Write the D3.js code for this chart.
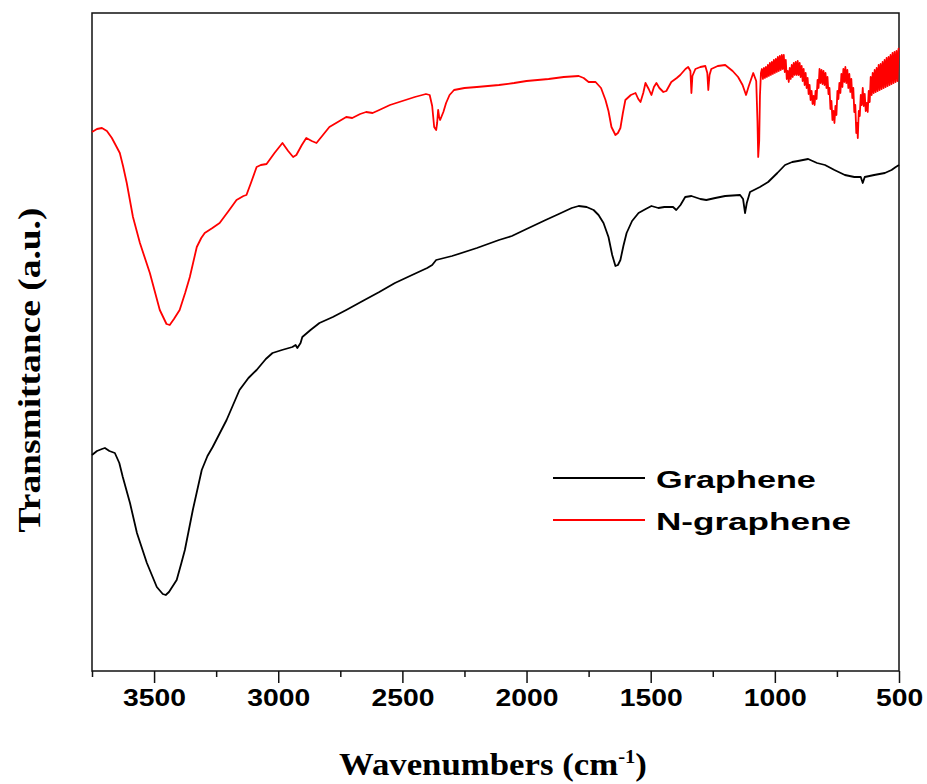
<!DOCTYPE html>
<html>
<head>
<meta charset="utf-8">
<script src="https://cdn.jsdelivr.net/npm/d3@7"></script>
<style>
  body { margin: 0; background: #fff; }
  svg { display: block; }
</style>
</head>
<body>
<div id="chart"></div>
<script>
var width = 927,
    height = 784;

// tick labels on the wavenumber axis
var majorTicks = [3500, 3000, 2500, 2000, 1500, 1000, 500];
var minorTicks = [3750, 3250, 2750, 2250, 1750, 1250, 750];

var seriesNames = ["Graphene", "N-graphene"];
var seriesColors = ["#000000", "#ff0000"];

// Graphene: [wavenumber, transmittance (a.u.)]
var graphene = [
  [3750, 21.6], [3730, 22.0], [3710, 22.2], [3698, 22.3], [3680, 22.0], [3658, 21.8],
  [3640, 20.8], [3626, 19.4], [3597, 16.8], [3569, 13.8], [3529, 10.8], [3489, 8.4],
  [3465, 7.7], [3453, 7.6], [3440, 7.9], [3409, 9.1], [3390, 10.8], [3376, 12.1],
  [3344, 16.1], [3308, 20.1], [3285, 21.5], [3264, 22.4], [3208, 25.1], [3156, 28.1],
  [3120, 29.3], [3087, 30.1], [3050, 31.2], [3023, 31.8], [2985, 32.1], [2943, 32.4],
  [2930, 32.6], [2923, 32.3], [2910, 32.8], [2903, 33.4], [2870, 34.1], [2834, 34.8],
  [2780, 35.4], [2726, 36.1], [2660, 37.0], [2593, 37.9], [2530, 38.8], [2461, 39.6],
  [2400, 40.3], [2380, 40.6], [2364, 41.1], [2300, 41.5], [2200, 42.3], [2111, 43.1],
  [2059, 43.5], [2000, 44.2], [1923, 45.1], [1870, 45.7], [1818, 46.3], [1790, 46.5],
  [1758, 46.4], [1730, 46.1], [1710, 45.6], [1690, 44.8], [1670, 43.4], [1655, 41.6],
  [1642, 40.5], [1632, 40.6], [1622, 41.1], [1610, 42.5], [1597, 43.8], [1575, 45.0],
  [1549, 45.8], [1520, 46.2], [1497, 46.5], [1469, 46.3], [1445, 46.4], [1429, 46.4],
  [1410, 46.4], [1397, 46.1], [1380, 46.6], [1361, 47.4], [1336, 47.5], [1300, 47.2],
  [1276, 47.1], [1240, 47.3], [1200, 47.5], [1140, 47.6], [1128, 47.2], [1120, 45.8],
  [1113, 46.8], [1100, 47.9], [1060, 48.4], [1027, 48.9], [990, 49.8], [959, 50.6],
  [930, 50.9], [907, 51.0], [866, 51.2], [830, 50.8], [798, 50.6], [760, 50.1],
  [718, 49.6], [680, 49.4], [654, 49.4], [646, 48.8], [638, 49.4], [600, 49.6],
  [557, 49.8], [530, 50.1], [513, 50.4], [500, 50.6]
];

// N-graphene: [wavenumber, transmittance (a.u.)]
var nGraphene = [
  [3750, 53.9], [3730, 54.2], [3710, 54.3], [3690, 54.0], [3670, 53.3], [3655, 52.6],
  [3638, 51.8], [3625, 50.5], [3610, 48.8], [3585, 45.4], [3557, 42.8], [3517, 39.8],
  [3477, 36.1], [3450, 34.7], [3437, 34.6], [3420, 35.2], [3397, 36.1], [3375, 37.8],
  [3356, 39.4], [3328, 42.4], [3310, 43.3], [3296, 43.8], [3265, 44.3], [3236, 44.8],
  [3200, 46.0], [3168, 47.1], [3140, 47.5], [3128, 47.6], [3110, 48.8], [3087, 50.4],
  [3070, 50.6], [3047, 50.7], [3015, 51.8], [2983, 52.8], [2960, 52.0], [2940, 51.4],
  [2927, 51.6], [2905, 52.6], [2887, 53.3], [2865, 53.0], [2846, 52.8], [2820, 53.6],
  [2794, 54.4], [2760, 54.9], [2726, 55.4], [2702, 55.3], [2670, 55.7], [2646, 55.9],
  [2620, 55.8], [2593, 56.1], [2550, 56.6], [2500, 57.0], [2450, 57.4], [2405, 57.7],
  [2390, 57.6], [2380, 56.5], [2372, 54.4], [2364, 54.1], [2360, 54.8], [2356, 56.1],
  [2352, 55.4], [2348, 55.1], [2335, 55.9], [2324, 56.8], [2310, 57.6], [2292, 58.1],
  [2250, 58.3], [2200, 58.4], [2111, 58.6], [2050, 58.8], [2000, 59.0], [1911, 59.2],
  [1850, 59.4], [1790, 59.5], [1770, 59.3], [1750, 58.9], [1722, 58.9], [1700, 58.3],
  [1682, 57.1], [1670, 56.0], [1658, 54.4], [1642, 53.6], [1632, 53.8], [1622, 54.3],
  [1612, 55.8], [1602, 57.1], [1580, 57.6], [1561, 57.8], [1550, 57.2], [1541, 56.9],
  [1530, 57.8], [1521, 58.8], [1508, 58.2], [1497, 57.6], [1487, 58.4], [1477, 58.8],
  [1465, 58.3], [1449, 57.9], [1437, 58.0], [1417, 58.9], [1395, 59.3], [1381, 59.6],
  [1360, 60.2], [1349, 60.4], [1340, 60.0], [1336, 57.8], [1332, 59.5], [1320, 60.2],
  [1300, 60.4], [1280, 60.5], [1272, 59.8], [1268, 58.1], [1263, 59.6], [1256, 60.2],
  [1230, 60.5], [1200, 60.6], [1170, 60.0], [1148, 59.4], [1130, 58.6], [1116, 57.6],
  [1105, 58.5], [1087, 59.8], [1075, 59.0], [1070, 55.0], [1067, 51.4], [1063, 53.0],
  [1060, 57.5], [1056, 59.8],
  // noisy fingerprint region
  [1052, 60.2], [1048, 59.2], [1044, 60.3], [1040, 59.3], [1036, 60.4], [1032, 59.4],
  [1028, 60.6], [1024, 59.5], [1020, 60.8], [1016, 59.6], [1012, 60.9], [1008, 59.7],
  [1004, 61.1], [1000, 59.8], [996, 61.2], [992, 59.9], [988, 61.4], [984, 60.0],
  [980, 61.5], [976, 60.1], [972, 61.6], [968, 60.2], [964, 61.6], [960, 59.9],
  [956, 61.1], [952, 59.2], [948, 60.0], [944, 58.9], [940, 60.3], [936, 59.2],
  [932, 60.6], [928, 59.4], [924, 60.8], [920, 59.6], [916, 60.9], [912, 59.6],
  [908, 61.0], [904, 59.6], [900, 60.8], [896, 59.4], [892, 60.5], [888, 59.0],
  [884, 60.2], [880, 58.6], [876, 59.8], [872, 58.3], [868, 59.3], [864, 57.7],
  [860, 58.6], [856, 57.1], [852, 58.0], [848, 56.7], [844, 57.5], [840, 56.6],
  [836, 58.0], [832, 57.2], [828, 59.1], [824, 58.3], [820, 60.2], [816, 58.8],
  [812, 60.1], [808, 58.7], [804, 60.0], [800, 58.6], [796, 59.8], [792, 58.3],
  [788, 59.4], [784, 57.7], [780, 58.3], [776, 56.2], [772, 57.0], [768, 55.1],
  [764, 56.0], [760, 54.8], [756, 56.5], [752, 55.6], [748, 58.0], [744, 57.2],
  [740, 58.8], [736, 57.8], [732, 59.7], [728, 58.4], [724, 60.2], [720, 58.9],
  [716, 60.4], [712, 58.8], [708, 60.1], [704, 58.3], [700, 59.7], [696, 57.9],
  [692, 59.2], [688, 57.3], [684, 58.3], [680, 55.9], [676, 56.6], [672, 53.8],
  [668, 54.8], [666, 53.3], [662, 56.0], [658, 55.5], [654, 57.6], [650, 56.6],
  [646, 58.3], [642, 56.5], [638, 57.7], [634, 56.0], [630, 56.8], [626, 55.9],
  [622, 58.0], [618, 56.9], [614, 59.4], [610, 57.6], [606, 59.8], [602, 57.8],
  [598, 60.1], [594, 57.9], [590, 60.3], [586, 58.0], [582, 60.6], [578, 58.1],
  [574, 60.7], [570, 58.2], [566, 60.9], [562, 58.3], [558, 61.1], [554, 58.4],
  [550, 61.3], [546, 58.5], [542, 61.4], [538, 58.6], [534, 61.6], [530, 58.7],
  [526, 61.8], [522, 58.8], [518, 61.9], [514, 58.9], [510, 62.0], [506, 59.0],
  [502, 62.2], [500, 62.3]
];

var plotLeft = 92, plotRight = 899, plotTop = 13, plotBottom = 671;

var svg = d3.select("#chart")
  .append("svg")
  .attr("width", width)
  .attr("height", height);

var xScale = d3.scaleLinear()
  .domain([3750, 500])
  .range([plotLeft, plotRight]);

var yScale = d3.scaleLinear()
  .domain([0, 65.8])
  .range([plotBottom, plotTop]);

// horizontal stretch needed to bring a text to a target width
function fitWidth(textSel, target) {
  var w = textSel.node().getBBox().width;
  return target / w;
}

// minor ticks
svg.append("g")
  .attr("transform", "translate(0," + plotBottom + ")")
  .call(d3.axisBottom(xScale).tickValues(minorTicks).tickSize(6).tickFormat(""))
  .call(function(g) { g.select(".domain").remove(); })
  .selectAll("line").attr("stroke", "#111").attr("stroke-width", 1.5);

// major ticks + labels
var xAxis = svg.append("g")
  .attr("transform", "translate(0," + plotBottom + ")")
  .call(d3.axisBottom(xScale).tickValues(majorTicks).tickSize(12).tickPadding(7).tickFormat(d3.format("d")));

xAxis.select(".domain").remove();
xAxis.selectAll("line").attr("stroke", "#111").attr("stroke-width", 1.5);
var tickText = xAxis.selectAll("text")
  .attr("fill", "#000")
  .style("font-family", "'Liberation Sans', Arial, sans-serif")
  .style("font-weight", "bold")
  .style("font-size", "23px");
// same stretch for every label, taken from the 4-digit one
var tickStretch = fitWidth(tickText.filter(function(d) { return d === 3500; }), 63);
tickText.attr("transform", "scale(" + tickStretch + ",1)");

// frame
svg.append("rect")
  .attr("x", plotLeft)
  .attr("y", plotTop)
  .attr("width", plotRight - plotLeft)
  .attr("height", plotBottom - plotTop)
  .attr("fill", "none")
  .attr("stroke", "#111")
  .attr("stroke-width", 1.5);

// lines
var line = d3.line()
  .x(function(d) { return xScale(d[0]); })
  .y(function(d) { return yScale(d[1]); });

[graphene, nGraphene].forEach(function(data, i) {
  svg.append("path")
    .datum(data)
    .attr("fill", "none")
    .attr("stroke", seriesColors[i])
    .attr("stroke-width", 1.8)
    .attr("stroke-linejoin", "round")
    .attr("d", line);
});

// legend
var legendY = [478, 520];
seriesNames.forEach(function(name, i) {
  svg.append("line")
    .attr("x1", 553).attr("x2", 645)
    .attr("y1", legendY[i]).attr("y2", legendY[i])
    .attr("stroke", seriesColors[i])
    .attr("stroke-width", 1.8);
  var g = svg.append("g");
  var t = g.append("text")
    .attr("x", 0).attr("y", 0)
    .style("font-family", "'Liberation Sans', Arial, sans-serif")
    .style("font-weight", "bold")
    .style("font-size", "23px")
    .text(name);
  var s = fitWidth(t, i === 0 ? 160 : 195);
  g.attr("transform", "translate(656," + (legendY[i] + 10) + ") scale(" + s + ",1)");
});

// x axis title
var xt = svg.append("g");
var xText = xt.append("text")
  .attr("text-anchor", "middle")
  .style("font-family", "'Liberation Serif', 'Times New Roman', serif")
  .style("font-weight", "bold")
  .style("font-size", "32px");
xText.append("tspan").text("Wavenumbers (cm");
xText.append("tspan").attr("dy", -12).style("font-size", "19px").text("-1");
xText.append("tspan").attr("dy", 12).text(")");
var sx = fitWidth(xText, 308);
xt.attr("transform", "translate(493,775) scale(" + sx + ",1)");

// y axis title
var yt = svg.append("g");
var yText = yt.append("text")
  .attr("text-anchor", "middle")
  .style("font-family", "'Liberation Serif', 'Times New Roman', serif")
  .style("font-weight", "bold")
  .style("font-size", "32px")
  .text("Transmittance (a.u.)");
var sy = fitWidth(yText, 325);
yt.attr("transform", "translate(40,370) rotate(-90) scale(" + sy + ",1)");
</script>
</body>
</html>
